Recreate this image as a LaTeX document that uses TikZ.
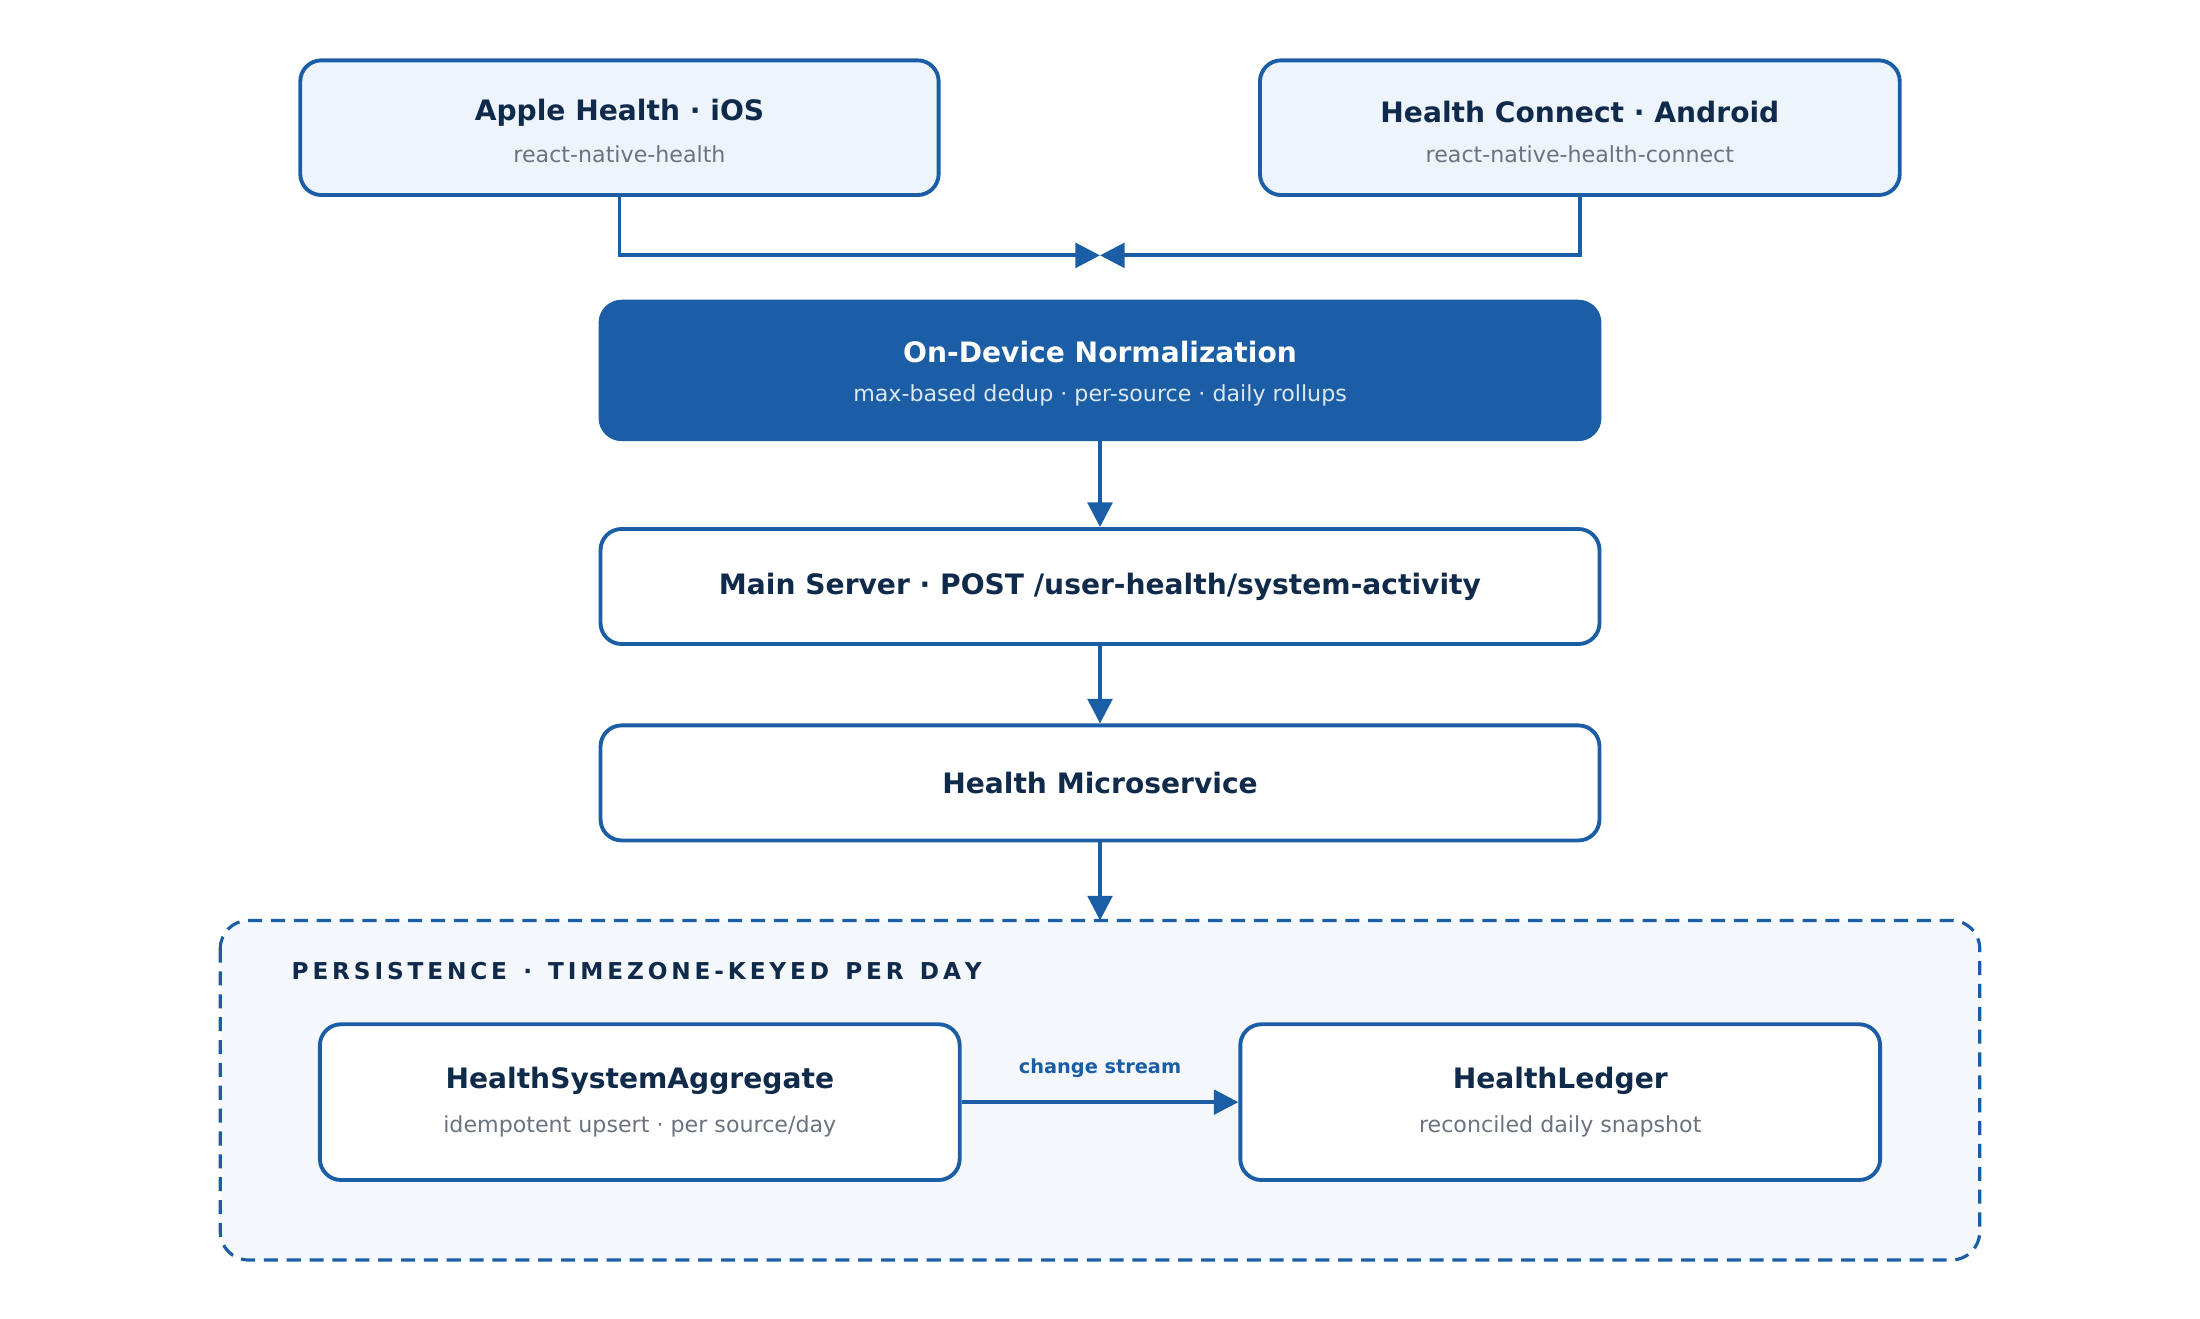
\documentclass[tikz,border=0pt]{standalone}
\usepackage{fontspec}
\setmainfont{DejaVu Sans}
\usetikzlibrary{arrows.meta}
\definecolor{edge}{HTML}{1B5EA6}
\definecolor{navy}{HTML}{0F2A4A}
\definecolor{subgrey}{HTML}{6B7280}
\definecolor{lightfill}{HTML}{EEF4FC}
\definecolor{zonefill}{HTML}{F4F8FC}
\tikzset{
  box/.style n args={2}{draw=edge, line width=1.1pt, rounded corners=6pt, fill=white, align=center, inner sep=0pt,
    minimum width={#1*0.01403cm}, minimum height={#2*0.01403cm}},
  flow/.style={draw=edge, line width=1.1pt, -{Triangle[width=7pt,length=7pt]}},
  ttl/.style={font=\fontsize{8}{10}\selectfont\bfseries, text=navy},
  sub/.style={font=\fontsize{6.3}{8}\selectfont, text=subgrey}
}
\begin{document}
\begin{tikzpicture}[x=0.01403cm, y=-0.01403cm]
\useasboundingbox (0,0) rectangle (1568,940);
% containers first
\draw[edge, line width=0.9pt, dash pattern=on 4pt off 2.5pt, fill=zonefill, rounded corners=8pt] (157,656) rectangle (1411,898);
\node[anchor=west, font=\fontsize{6.6}{8}\selectfont\bfseries, text=navy] (zonelbl) at (199,692) {P\,E\,R\,S\,I\,S\,T\,E\,N\,C\,E\ \ ·\ \ T\,I\,M\,E\,Z\,O\,N\,E\,-\,K\,E\,Y\,E\,D\ \ P\,E\,R\ \ D\,A\,Y};
% sources
\node[box={455}{96}, fill=lightfill] (apple) at (441.5,91) {};
\node[box={456}{96}, fill=lightfill] (hconn) at (1126,91) {};
\node[ttl] at (441.5,80) {Apple Health · iOS};
\node[sub] at (441.5,110) {react-native-health};
\node[ttl] at (1126,80) {Health Connect · Android};
\node[sub] at (1126,110) {react-native-health-connect};
% pipeline
\node[box={712}{98}, fill=edge] (norm) at (784,264) {};
\node[ttl, text=white] at (784,251) {On-Device Normalization};
\node[sub, text=white!85!edge] at (784,282) {max-based dedup · per-source · daily rollups};
\node[box={712}{82}, ttl] (server) at (784,418) {Main Server · POST /user-health/system-activity};
\node[box={712}{82}, ttl] (micro) at (784,558) {Health Microservice};
\coordinate (zonetop) at (784,656);
% stores
\node[box={456}{111}] (agg) at (456,785.5) {};
\node[ttl] at (456,770) {HealthSystemAggregate};
\node[sub] at (456,803) {idempotent upsert · per source/day};
\node[box={456}{111}] (ledger) at (1112,785.5) {};
\node[ttl] at (1112,770) {HealthLedger};
\node[sub] at (1112,803) {reconciled daily snapshot};
% connectors
\coordinate (merge) at (784,182);
\draw[flow] (apple.south) |- (merge);
\draw[flow] (hconn.south) |- (merge);
\draw[flow] (norm) -- (server);
\draw[flow] (server) -- (micro);
\draw[flow] (micro) -- (zonetop);
\draw[flow] (agg) -- node[above=3pt, font=\fontsize{5.5}{7}\selectfont\bfseries, text=edge] {change stream} (ledger);
\end{tikzpicture}
\end{document}
